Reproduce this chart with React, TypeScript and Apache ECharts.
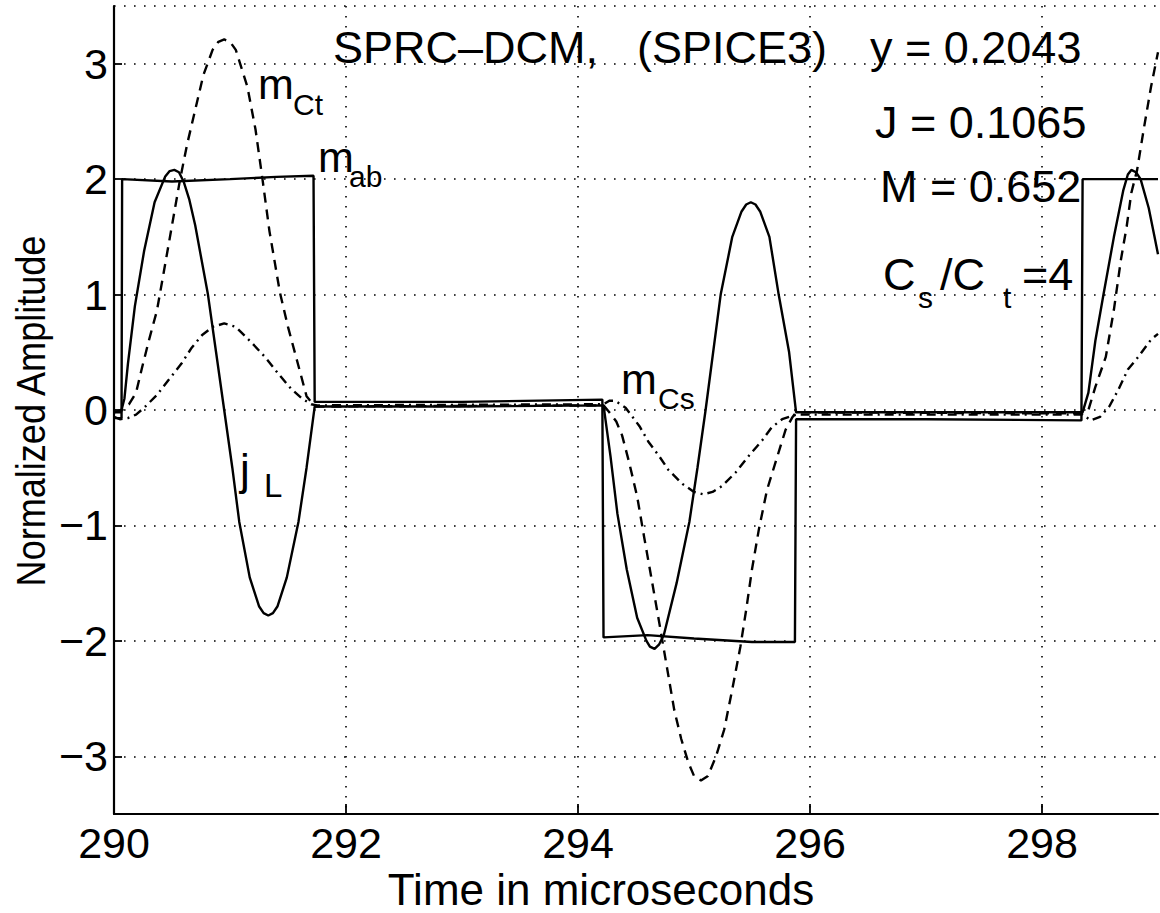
import React, { useEffect, useRef } from "react";
import * as echarts from "echarts";

// ---- Data (time in microseconds, normalized amplitude) ----
const xTicks = [290, 292, 294, 296, 298];
const yTicks = [-3, -2, -1, 0, 1, 2, 3];

const mAb: [number, number][] = [
  [290.0, -0.07], [290.065, -0.07], [290.07, 2.0], [290.5, 1.98], [291.0, 2.0], [291.4, 2.02],
  [291.72, 2.03], [291.73, 0.07], [293.0, 0.07], [294.21, 0.09], [294.22, -1.97], [294.6, -1.95],
  [295.0, -1.98], [295.5, -2.01], [295.87, -2.01], [295.88, -0.08], [297.0, -0.08], [298.34, -0.09],
  [298.35, 2.0], [299.0, 2.0],
];

const jL: [number, number][] = [
  [290.0, -0.02], [290.06, -0.02], [290.09, 0.1], [290.12, 0.4], [290.18, 0.9], [290.26, 1.38],
  [290.35, 1.8], [290.44, 2.02], [290.48, 2.07], [290.52, 2.08], [290.56, 2.06], [290.6, 1.98],
  [290.65, 1.82], [290.7, 1.6], [290.81, 1.0], [290.88, 0.5], [290.95, 0.0], [291.02, -0.5],
  [291.08, -0.97], [291.17, -1.45], [291.25, -1.7], [291.29, -1.76], [291.33, -1.78], [291.37, -1.76],
  [291.41, -1.7], [291.49, -1.45], [291.59, -0.97], [291.66, -0.5], [291.73, 0.03], [293.0, 0.03],
  [294.22, 0.04], [294.28, -0.4], [294.34, -0.9], [294.42, -1.38], [294.51, -1.8], [294.59, -2.0],
  [294.62, -2.05], [294.66, -2.07], [294.7, -2.03], [294.74, -1.95], [294.85, -1.5], [294.96, -0.97],
  [295.03, -0.5], [295.1, 0.0], [295.23, 1.0], [295.33, 1.5], [295.41, 1.72], [295.45, 1.78],
  [295.49, 1.8], [295.53, 1.78], [295.57, 1.72], [295.65, 1.5], [295.73, 1.0], [295.82, 0.5],
  [295.88, -0.02], [297.0, -0.02], [298.35, -0.02], [298.4, 0.15], [298.46, 0.6], [298.53, 1.0],
  [298.62, 1.5], [298.7, 1.9], [298.74, 2.04], [298.77, 2.08], [298.81, 2.06], [298.85, 2.0],
  [298.92, 1.75], [298.97, 1.5], [299.0, 1.35],
];

const mCt: [number, number][] = [
  [290.0, -0.02], [290.07, 0.0], [290.13, 0.05], [290.19, 0.15], [290.24, 0.36], [290.3, 0.6],
  [290.37, 0.86], [290.43, 1.2], [290.5, 1.6], [290.57, 2.0], [290.63, 2.3], [290.7, 2.6],
  [290.77, 2.9], [290.85, 3.12], [290.9, 3.19], [290.95, 3.21], [291.0, 3.19], [291.05, 3.12],
  [291.15, 2.8], [291.22, 2.43], [291.28, 2.0], [291.34, 1.55], [291.43, 1.02], [291.5, 0.72],
  [291.58, 0.42], [291.66, 0.12], [291.73, 0.03], [294.22, 0.04], [294.27, -0.02], [294.33, -0.1],
  [294.38, -0.22], [294.44, -0.45], [294.51, -0.75], [294.57, -1.1], [294.63, -1.44], [294.7, -1.84],
  [294.76, -2.19], [294.83, -2.6], [294.89, -2.85], [294.95, -3.05], [295.0, -3.17], [295.06, -3.21],
  [295.12, -3.17], [295.19, -3.0], [295.26, -2.77], [295.33, -2.42], [295.4, -2.05], [295.45, -1.73],
  [295.5, -1.38], [295.56, -1.03], [295.63, -0.69], [295.71, -0.43], [295.79, -0.17], [295.85, -0.06],
  [295.88, -0.02], [298.35, -0.03], [298.4, 0.0], [298.46, 0.2], [298.55, 0.46], [298.62, 0.87],
  [298.68, 1.3], [298.73, 1.59], [298.77, 1.88], [298.82, 2.08], [298.88, 2.45], [298.94, 2.8],
  [299.0, 3.1],
];

const mCs: [number, number][] = [
  [290.0, -0.06], [290.05, -0.08], [290.12, -0.07], [290.19, -0.04], [290.26, 0.02], [290.37, 0.13],
  [290.47, 0.26], [290.58, 0.4], [290.67, 0.54], [290.76, 0.65], [290.85, 0.72], [290.95, 0.75],
  [291.05, 0.72], [291.19, 0.58], [291.31, 0.45], [291.42, 0.31], [291.53, 0.18], [291.62, 0.1],
  [291.7, 0.05], [291.75, 0.04], [294.22, 0.05], [294.27, 0.08], [294.32, 0.08], [294.41, 0.02],
  [294.53, -0.14], [294.61, -0.28], [294.7, -0.4], [294.78, -0.52], [294.9, -0.64], [295.0, -0.71],
  [295.08, -0.73], [295.16, -0.71], [295.24, -0.66], [295.36, -0.54], [295.47, -0.4], [295.59, -0.26],
  [295.67, -0.15], [295.76, -0.08], [295.88, -0.04], [298.35, -0.04], [298.42, -0.09], [298.5, -0.06],
  [298.58, 0.03], [298.66, 0.18], [298.74, 0.35], [298.83, 0.46], [298.94, 0.61], [299.0, 0.66],
];

const titleLeft = "SPRC–DCM,";
const titleMid = "(SPICE3)";
const yText = "y = 0.2043";
const jText = "J = 0.1065";
const mText = "M = 0.652";
const xName = "Time in microseconds";
const yName = "Normalized Amplitude";

const FONT = '"Liberation Sans", Arial, Helvetica, sans-serif';

function txt(text: string, x: number, y: number, size: number, extra: any = {}) {
  const { style, ...rest } = extra;
  return {
    type: "text",
    x,
    y,
    silent: true,
    z: 100,
    ...rest,
    style: {
      text,
      fill: "#000",
      fontSize: size,
      fontFamily: FONT,
      align: "left",
      verticalAlign: "middle",
      ...(style || {}),
    },
  };
}

export default function App() {
  const ref = useRef<HTMLDivElement>(null);

  useEffect(() => {
    document.body.style.margin = "0";
    const chart = echarts.init(ref.current!, null, { renderer: "svg" });
    const dotted = { color: "#000", width: 1.6, type: [1.6, 8.4] as any };
    const lineSeries = (name: string, data: [number, number][], type: any) => ({
      name,
      type: "line",
      data,
      showSymbol: false,
      silent: true,
      lineStyle: { color: "#000", width: 2.4, type },
      z: 5,
    });

    chart.setOption({
      animation: false,
      backgroundColor: "#fff",
      grid: { left: 114, right: 2, top: 6, bottom: 99, containLabel: false },
      xAxis: {
        type: "value",
        min: 290,
        max: 299,
        interval: 2,
        axisLine: { show: true, onZero: false, lineStyle: { color: "#000", width: 2.2 } },
        axisTick: { show: true, inside: true, length: 10, lineStyle: { color: "#000", width: 1.8 } },
        axisLabel: {
          color: "#000",
          fontSize: 43,
          fontFamily: FONT,
          margin: 7,
          showMaxLabel: false,
          formatter: (v: number) => (xTicks.includes(v) ? String(v) : ""),
        },
        splitLine: { show: true, showMinLine: false, showMaxLine: false, lineStyle: dotted },
      },
      yAxis: {
        type: "value",
        min: -3.5,
        max: 3.5,
        splitNumber: 7,
        axisLine: { show: true, onZero: false, lineStyle: { color: "#000", width: 2.2 } },
        axisTick: { show: true, inside: true, length: 8, lineStyle: { color: "#000", width: 1.8 } },
        axisLabel: {
          color: "#000",
          fontSize: 43,
          fontFamily: FONT,
          margin: 6,
          showMinLabel: false,
          showMaxLabel: false,
          formatter: (v: number) =>
            yTicks.includes(v) ? (v < 0 ? "−" + Math.abs(v) : String(v)) : "",
        },
        splitLine: { show: true, showMinLine: false, showMaxLine: true, lineStyle: dotted },
      },
      series: [
        lineSeries("m_ab", mAb, "solid"),
        lineSeries("j_L", jL, "solid"),
        lineSeries("m_Ct", mCt, [10, 7]),
        lineSeries("m_Cs", mCs, [9, 5, 2, 5]),
      ],
      graphic: [
        txt(titleLeft, 333, 47, 45),
        txt(titleMid, 637, 47, 45),
        txt(yText, 870, 47, 45),
        txt(jText, 875, 122, 45),
        txt(mText, 880, 186, 45),
        txt("C", 883, 274, 45),
        txt("s", 918, 297, 30),
        txt("/C", 940, 274, 45),
        txt("t", 1003, 297, 30),
        txt("=4", 1022, 274, 45),
        txt("m", 258, 84, 43),
        txt("Ct", 293, 104, 30),
        txt("m", 318, 157, 43),
        txt("ab", 349, 176, 30),
        txt("m", 621, 379, 43),
        txt("Cs", 658, 398, 30),
        txt("j", 240, 469, 44),
        txt("L", 264, 485, 33),
        txt(xName, 601, 889, 44, { style: { align: "center" } }),
        txt(yName, 31, 411, 41, { rotation: Math.PI / 2, scaleX: 0.88, style: { align: "center" } }),
      ],
    });
    return () => chart.dispose();
  }, []);

  return (
    <div
      ref={ref}
      style={{ position: "absolute", left: 0, top: 0, width: 1160, height: 913, background: "#fff" }}
    />
  );
}
